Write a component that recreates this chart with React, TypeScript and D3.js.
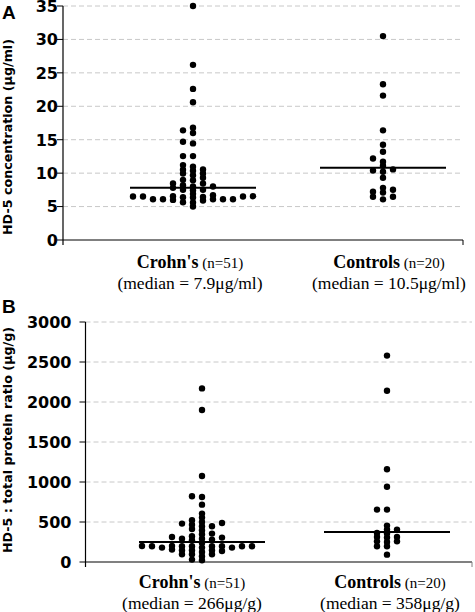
import React from "react";
import * as d3 from "d3";

// ---------- data ----------
const groups = ["Crohn's", "Controls"];
const groupN = ["(n=51)", "(n=20)"];

const crohnsConc = [
  35.0, 26.2, 22.6, 20.6, 16.8, 16.4, 16.0, 14.7, 14.45, 12.55, 12.55, 11.2, 10.95,
  10.55, 10.5, 10.35, 9.95, 9.95, 9.7, 9.3, 9.0, 8.95, 8.45, 8.45, 8.2, 8.0, 8.0, 7.8,
  7.5, 7.5, 7.45, 6.9, 6.7, 6.55, 6.55, 6.5, 6.5, 6.5, 6.45, 6.4, 6.35, 6.1, 6.1, 6.1,
  6.1, 6.1, 6.0, 5.9, 5.65, 5.6, 5.0,
];
const controlsConc = [
  30.5, 23.3, 21.6, 16.4, 14.25, 13.2, 12.2, 11.7, 11.1, 10.56, 10.4, 10.2, 9.3, 7.8,
  7.52, 7.22, 7.1, 6.48, 6.48, 6.08,
];
const medianLineConc = [7.8, 10.8];
const medianTextConc = ["(median = 7.9\u03bcg/ml)", "(median = 10.5\u03bcg/ml)"];
const ticksConc = [0, 5, 10, 15, 20, 25, 30, 35];

const crohnsRatio = [
  2170, 1900, 1075, 821, 813, 717, 605, 555, 521, 500, 488, 480, 467, 446, 446, 413,
  396, 355, 346, 321, 313, 305, 292, 292, 280, 271, 238, 200, 200, 196, 196, 196, 196,
  196, 196, 196, 180, 180, 180, 155, 146, 146, 146, 138, 125, 96, 96, 96, 71, 30, 21,
];
const controlsRatio = [
  2580, 2140, 1160, 940, 655, 655, 455, 405, 405, 363, 355, 313, 313, 305, 258, 258,
  250, 196, 196, 92,
];
const medianLineRatio = [250, 375];
const medianTextRatio = ["(median = 266\u03bcg/g)", "(median = 358\u03bcg/g)"];
const ticksRatio = [0, 500, 1000, 1500, 2000, 2500, 3000];

// ---------- layout helpers ----------
type Placed = { v: number; c: number };

function swarm(values: number[], y: (v: number) => number, minGap: number): Placed[] {
  const sorted = [...values].sort((a, b) => a - b);
  const last = new Map<number, number>();
  return sorted.map((v) => {
    const py = y(v);
    for (let k = 0; k < 100; k++) {
      const c = k === 0 ? 0 : k % 2 === 1 ? -Math.ceil(k / 2) : Math.ceil(k / 2);
      const l = last.get(c);
      if (l === undefined || Math.abs(l - py) >= minGap) {
        last.set(c, py);
        return { v, c };
      }
    }
    return { v, c: 0 };
  });
}

type PanelProps = {
  letter: string;
  letterY: number;
  title: string;
  titleCenter: number;
  ticks: number[];
  domainMax: number;
  yTop: number;
  yBottom: number;
  left: number;
  right: number;
  labelGap: number;
  centers: [number, number];
  series: number[][];
  medians: number[];
  medianTexts: string[];
  labelCenters: [number, number];
  labelY1: number;
  labelY2: number;
  minGap: number;
  xAxisColor: string;
  xAxisWidth: number;
};

function Panel(p: PanelProps) {
  const y = d3.scaleLinear().domain([0, p.domainMax]).range([p.yBottom, p.yTop]);
  const x = d3.scalePoint<string>().domain(groups).range(p.centers);
  const colStep = 10;
  const halfLine = 63;
  const tickFont = { fontFamily: "DejaVu Sans, Verdana, sans-serif", fontWeight: 700 };
  return (
    <g>
      <text x={2} y={p.letterY} fontFamily="Liberation Sans, Arial, sans-serif" fontWeight={700} fontSize={19}>
        {p.letter}
      </text>
      <text
        transform={`translate(12,${p.titleCenter}) rotate(-90)`}
        textAnchor="middle"
        fontSize={12.7}
        {...tickFont}
      >
        {p.title}
      </text>
      {/* gridlines */}
      {p.ticks.filter((t) => t > 0).map((t) => (
        <line
          key={"g" + t}
          x1={p.left}
          x2={p.right}
          y1={y(t)}
          y2={y(t)}
          stroke="#c8c8c8"
          strokeWidth={1}
          strokeDasharray="5,3"
        />
      ))}
      {/* y ticks & labels */}
      {p.ticks.map((t) => (
        <g key={"t" + t}>
          <line x1={p.left - 6} x2={p.left} y1={y(t)} y2={y(t)} stroke="#000" strokeWidth={1} />
          <text x={p.left - p.labelGap} y={y(t)} dy="0.37em" textAnchor="end" fontSize={16} {...tickFont}>
            {t}
          </text>
        </g>
      ))}
      {/* x axis */}
      <line x1={p.left} x2={p.right} y1={p.yBottom} y2={p.yBottom} stroke={p.xAxisColor} strokeWidth={p.xAxisWidth} />
      <line x1={p.right} x2={p.right} y1={p.yBottom} y2={p.yBottom + 5} stroke={p.xAxisColor} strokeWidth={1} />
      {/* y axis */}
      <line x1={p.left} x2={p.left} y1={p.yTop} y2={p.yBottom + 5} stroke="#000" strokeWidth={1.2} />
      {/* dots */}
      {p.series.map((vals, gi) =>
        swarm(vals, y, p.minGap).map((d, i) => (
          <circle
            key={gi + "-" + i}
            cx={(x(groups[gi]) as number) + d.c * colStep}
            cy={y(d.v)}
            r={3.2}
            fill="#000"
          />
        ))
      )}
      {/* median lines */}
      {p.medians.map((m, gi) => (
        <line
          key={"m" + gi}
          x1={(x(groups[gi]) as number) - halfLine}
          x2={(x(groups[gi]) as number) + halfLine}
          y1={y(m)}
          y2={y(m)}
          stroke="#000"
          strokeWidth={2}
        />
      ))}
      {/* category labels */}
      {groups.map((g, gi) => (
        <g key={"l" + gi} fontFamily="Liberation Serif, Times New Roman, serif">
          <text x={p.labelCenters[gi]} y={p.labelY1} textAnchor="middle">
            <tspan fontWeight={700} fontSize={18}>{g}</tspan>
            <tspan fontSize={15}>{" " + groupN[gi]}</tspan>
          </text>
          <text x={p.labelCenters[gi]} y={p.labelY2} textAnchor="middle" fontSize={17.5}>
            {p.medianTexts[gi]}
          </text>
        </g>
      ))}
    </g>
  );
}

export default function App() {
  return (
    <svg
      width={475}
      height={612}
      style={{ position: "absolute", left: 0, top: 0, background: "#fff" }}
    >
      <rect width={475} height={612} fill="#fff" />
      <Panel
        letter="A"
        letterY={19}
        title={"HD-5 concentration (\u03bcg/ml)"}
        titleCenter={137}
        ticks={ticksConc}
        domainMax={35}
        yTop={6}
        yBottom={240}
        left={63}
        right={463}
        labelGap={5}
        centers={[193, 383]}
        series={[crohnsConc, controlsConc]}
        medians={medianLineConc}
        medianTexts={medianTextConc}
        labelCenters={[190, 389]}
        labelY1={268}
        labelY2={289}
        minGap={3.5}
        xAxisColor="#000"
        xAxisWidth={1}
      />
      <Panel
        letter="B"
        letterY={313}
        title={"HD-5 : total protein ratio (\u03bcg/g)"}
        titleCenter={440}
        ticks={ticksRatio}
        domainMax={3000}
        yTop={322}
        yBottom={562}
        left={85.5}
        right={472}
        labelGap={14}
        centers={[202, 387]}
        series={[crohnsRatio, controlsRatio]}
        medians={medianLineRatio}
        medianTexts={medianTextRatio}
        labelCenters={[192, 390]}
        labelY1={588}
        labelY2={609}
        minGap={3.5}
        xAxisColor="#808080"
        xAxisWidth={2}
      />
    </svg>
  );
}
